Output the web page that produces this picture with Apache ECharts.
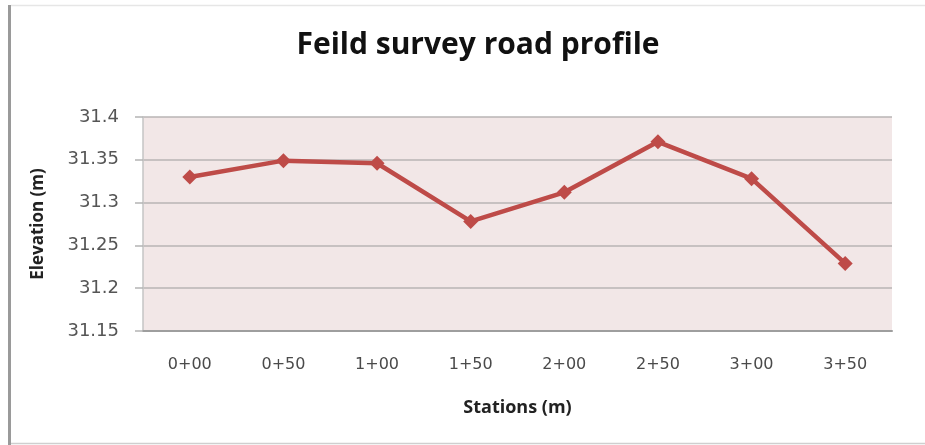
<!DOCTYPE html>
<html>
<head>
<meta charset="utf-8">
<script src="https://cdn.jsdelivr.net/npm/echarts@6/dist/echarts.min.js"></script>
<style>html,body{margin:0;padding:0;background:#fff}#c{width:925px;height:445px}</style>
</head>
<body>
<div id="c"></div>
<script>
const stations = ['0+00','0+50','1+00','1+50','2+00','2+50','3+00','3+50'];
const elevation = [31.33, 31.349, 31.346, 31.278, 31.312, 31.371, 31.328, 31.229];
const yTicks = [31.15, 31.2, 31.25, 31.3, 31.35, 31.4];

const chart = echarts.init(document.getElementById('c'), null, {renderer:'canvas'});
chart.setOption({
  animation:false,
  backgroundColor:'#ffffff',
  title:{
    text:'Feild survey road profile',
    left:473, top:25, textAlign:'center',
    textStyle:{fontFamily:'Open Sans', fontWeight:'bold', fontSize:30, color:'#111'}
  },
  graphic:[
    {type:'rect', shape:{x:8,y:5,width:3,height:440}, style:{fill:'#9a9a9a'}},
    {type:'line', shape:{x1:11,y1:5.5,x2:925,y2:5.5}, style:{stroke:'#e6e6e6', lineWidth:1.5}},
    {type:'line', shape:{x1:11,y1:443.5,x2:925,y2:443.5}, style:{stroke:'#cfcfcf', lineWidth:1.5}}
  ],
  grid:{left:143, right:33, top:117, bottom:114, show:true, backgroundColor:'#F2E7E7', borderWidth:0},
  xAxis:{
    type:'category', data:stations, boundaryGap:true,
    name:'Stations (m)', nameLocation:'middle', nameGap:68,
    nameTextStyle:{fontFamily:'Open Sans', fontWeight:'bold', fontSize:18, color:'#222'},
    axisLine:{lineStyle:{color:'#9e9e9e', width:2}},
    axisTick:{show:false},
    axisLabel:{margin:26, fontFamily:'DejaVu Sans', fontSize:16, color:'#4a4a4a'}
  },
  yAxis:{
    type:'value', min:31.15, max:31.4, interval:0.05,
    name:'Elevation (m)', nameLocation:'middle', nameGap:96, nameRotate:90,
    nameTextStyle:{fontFamily:'Open Sans', fontWeight:'bold', fontSize:17, color:'#222'},
    axisLine:{show:true, lineStyle:{color:'#c4c4c4', width:1.5}},
    axisTick:{show:true, length:8, lineStyle:{color:'#b4b4b4', width:1.5}},
    splitLine:{lineStyle:{color:'#b9b4b4', width:1.5}},
    axisLabel:{margin:24, fontFamily:'DejaVu Sans', fontSize:18, color:'#555',
      formatter:function(v){ const t = yTicks.find(x=>Math.abs(x-v)<1e-9); return t===undefined ? '' : String(t); }}
  },
  series:[{
    type:'line', data:elevation,
    lineStyle:{color:'#BE4B48', width:4.5},
    itemStyle:{color:'#BE4B48'},
    symbol:'diamond', symbolSize:15
  }]
});
</script>
</body>
</html>
